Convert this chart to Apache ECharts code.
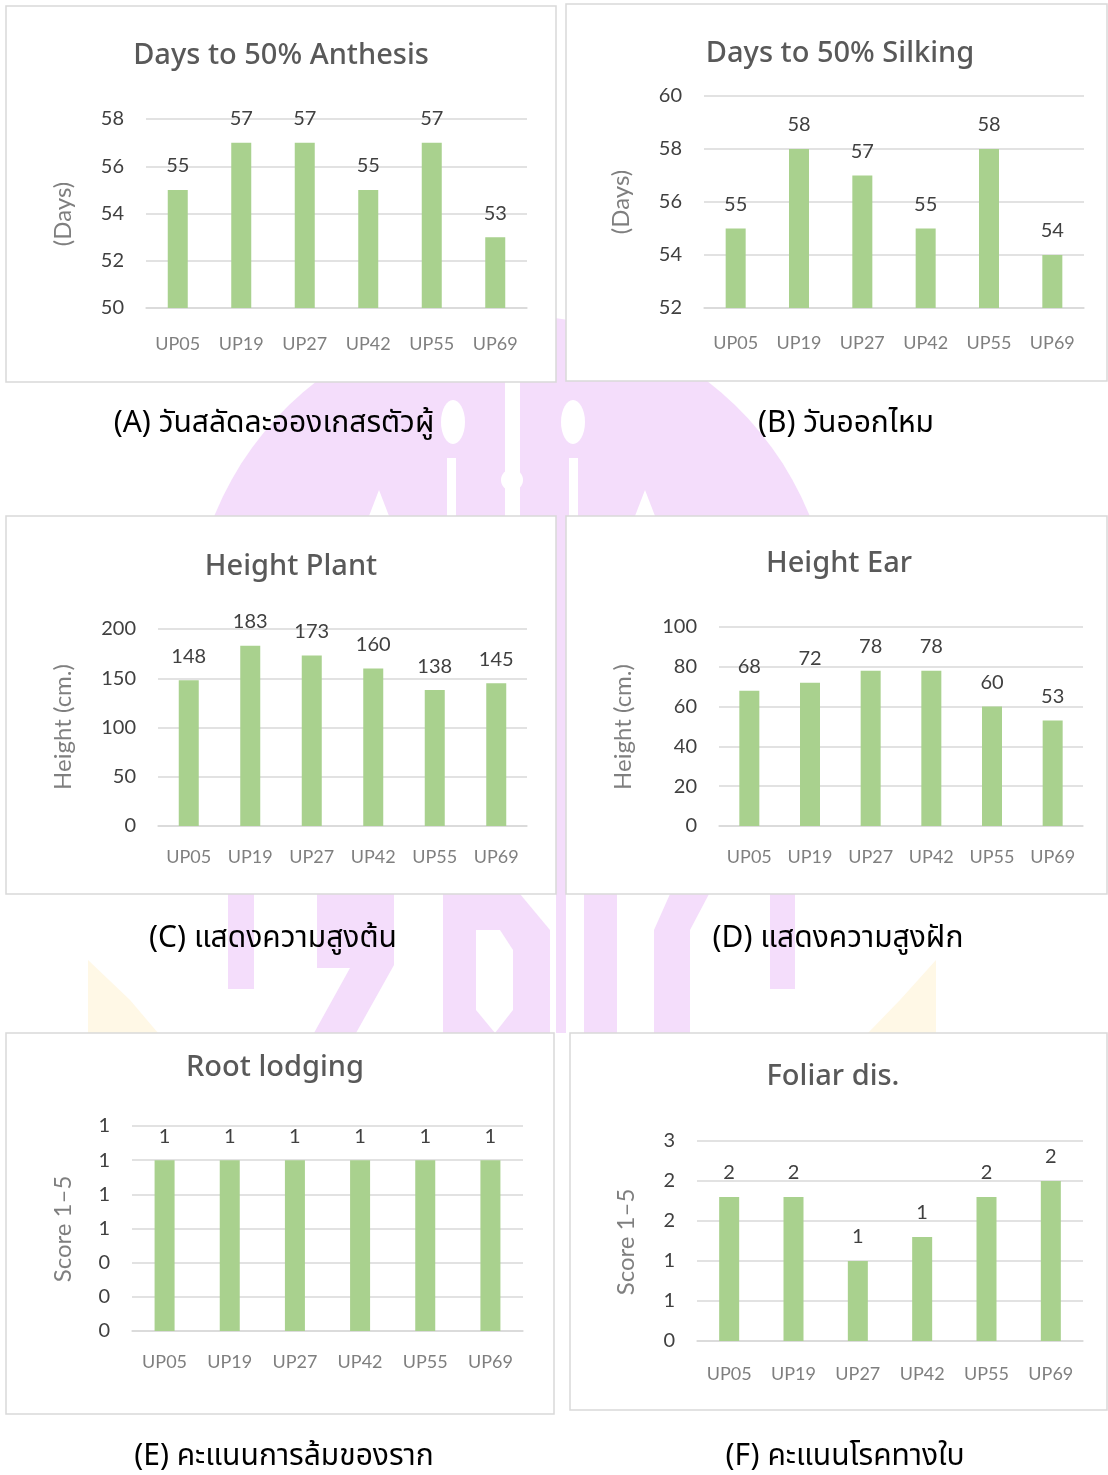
<!DOCTYPE html>
<html>
<head>
<meta charset="utf-8">
<script src="https://cdn.jsdelivr.net/npm/echarts@6/dist/echarts.min.js"></script>
<style>
  html, body { margin: 0; padding: 0; background: #fff; }
  #chart { width: 1108px; height: 1475px; }
</style>
</head>
<body>
<div id="chart"></div>
<script>
// data
const categories = ['UP05', 'UP19', 'UP27', 'UP42', 'UP55', 'UP69']
const anthesisDays = [55, 57, 57, 55, 57, 53]
const silkingDays = [55, 58, 57, 55, 58, 54]
const plantHeight = [148, 183, 173, 160, 138, 145]
const earHeight = [68, 72, 78, 78, 60, 53]
const rootLodging = [1, 1, 1, 1, 1, 1]
const foliarDisease = [1.8, 1.8, 1.0, 1.3, 1.8, 2.0]

const titles = ['Days to 50% Anthesis', 'Days to 50% Silking', 'Height Plant', 'Height Ear', 'Root lodging', 'Foliar dis.']
const axisNames = ['(Days)', '(Days)', 'Height (cm.)', 'Height (cm.)', 'Score 1\u20135', 'Score 1\u20135']
const captions = [
  '(A) วันสลัดละอองเกสรตัวผู้',
  '(B) วันออกไหม',
  '(C) แสดงความสูงต้น',
  '(D) แสดงความสูงฝัก',
  '(E) คะแนนการล้มของราก',
  '(F) คะแนนโรคทางใบ'
]
const yMin = [50, 52, 0, 0, 0, 0]
const yMax = [58, 60, 200, 100, 1.2, 2.5]
const yStep = [2, 2, 50, 20, 0.2, 0.5]
const seriesData = [anthesisDays, silkingDays, plantHeight, earHeight, rootLodging, foliarDisease]

// layout of each panel (page pixels)
const panels = [
  { box: [6, 6, 550, 376], grid: [146, 119, 381, 189], title: [281, 56], name: [63, 214], caption: [274, 426], catMargin: 27 },
  { box: [566, 4, 541, 377], grid: [704, 96, 380, 212], title: [840, 54], name: [621, 202], caption: [846, 426], catMargin: 26 },
  { box: [6, 516, 550, 378], grid: [158, 629, 369, 197], title: [291, 567], name: [63, 727], caption: [273, 941], catMargin: 22 },
  { box: [566, 516, 541, 378], grid: [719, 627, 364, 199], title: [839, 564], name: [623, 727], caption: [838, 941], catMargin: 22 },
  { box: [6, 1033, 548, 381], grid: [132, 1126, 391, 205], title: [275, 1068], name: [63, 1229], caption: [284, 1459], catMargin: 22 },
  { box: [570, 1033, 537, 377], grid: [697, 1141, 386, 200], title: [833, 1077], name: [626, 1242], caption: [845, 1459], catMargin: 24 }
]

const LATIN = 'Lato, "Open Sans", sans-serif'
const THAI = '"Noto Sans Thai", "Noto Sans Thai Looped", Loma, Garuda, Norasi, "Tlwg Typist", sans-serif'
const PINK = '#F4DDFB'

// rough watermark behind the panels
function watermark() {
  const els = []
  const pts = []
  const cx = 512, cy = 636, r = 321
  const a0 = Math.acos((cy - 700) / r)
  for (let i = 0; i <= 60; i++) {
    const a = -a0 + (2 * a0 * i) / 60
    pts.push([cx + r * Math.sin(a), cy - r * Math.cos(a)])
  }
  els.push({ type: 'polygon', shape: { points: pts }, style: { fill: PINK }, z: -30 })
  const white = { fill: '#fff' }
  els.push({ type: 'rect', shape: { x: 505, y: 382, width: 15, height: 134 }, style: white, z: -29 })
  els.push({ type: 'circle', shape: { cx: 512, cy: 480, r: 11 }, style: white, z: -29 })
  els.push({ type: 'ellipse', shape: { cx: 453, cy: 422, rx: 12, ry: 22 }, style: white, z: -29 })
  els.push({ type: 'ellipse', shape: { cx: 573, cy: 422, rx: 12, ry: 22 }, style: white, z: -29 })
  els.push({ type: 'rect', shape: { x: 447, y: 458, width: 9, height: 58 }, style: white, z: -29 })
  els.push({ type: 'rect', shape: { x: 569, y: 458, width: 9, height: 58 }, style: white, z: -29 })
  els.push({ type: 'polygon', shape: { points: [[369, 516], [379, 490], [389, 516]] }, style: white, z: -29 })
  els.push({ type: 'polygon', shape: { points: [[635, 516], [645, 490], [655, 516]] }, style: white, z: -29 })
  // strip between the panel columns
  els.push({ type: 'rect', shape: { x: 556, y: 380, width: 10, height: 653 }, style: { fill: PINK }, z: -30 })
  // letter shapes in the lower gap
  const pink = { fill: PINK }
  els.push({ type: 'rect', shape: { x: 228, y: 894, width: 26, height: 95 }, style: pink, z: -30 })
  els.push({ type: 'polygon', shape: { points: [[317, 894], [394, 894], [394, 965], [356, 1033], [314, 1033], [350, 968], [317, 968]] }, style: pink, z: -30 })
  els.push({ type: 'polygon', shape: { points: [[443, 894], [520, 894], [550, 930], [550, 1033], [443, 1033]] }, style: pink, z: -30 })
  els.push({ type: 'polygon', shape: { points: [[476, 930], [500, 930], [513, 950], [513, 1010], [495, 1033], [476, 1010]] }, style: white, z: -29 })
  els.push({ type: 'rect', shape: { x: 584, y: 894, width: 33, height: 139 }, style: pink, z: -30 })
  els.push({ type: 'polygon', shape: { points: [[670, 894], [709, 894], [690, 930], [690, 1033], [654, 1033], [654, 930]] }, style: pink, z: -30 })
  els.push({ type: 'rect', shape: { x: 770, y: 894, width: 25, height: 95 }, style: pink, z: -30 })
  els.push({ type: 'polygon', shape: { points: [[88, 960], [130, 1000], [158, 1033], [88, 1033]] }, style: { fill: '#FFF8E6' }, z: -30 })
  els.push({ type: 'polygon', shape: { points: [[936, 960], [900, 1000], [868, 1033], [936, 1033]] }, style: { fill: '#FFF8E6' }, z: -30 })
  return els
}

const graphics = watermark()
const grids = [], xAxes = [], yAxes = [], series = []

panels.forEach((p, i) => {
  graphics.push({
    type: 'rect',
    shape: { x: p.box[0], y: p.box[1], width: p.box[2], height: p.box[3] },
    style: { fill: '#fff', stroke: '#d9d9d9', lineWidth: 1.5 },
    z: -10
  })
  graphics.push({
    type: 'text', x: p.title[0], y: p.title[1], z: 10,
    style: { text: titles[i], fill: '#595959', fontSize: 29, fontWeight: 500, fontFamily: '"Noto Sans", sans-serif', align: 'center', verticalAlign: 'middle' }
  })
  graphics.push({
    type: 'text', x: p.name[0], y: p.name[1], rotation: Math.PI / 2, z: 10,
    style: { text: axisNames[i], fill: '#7f7f7f', fontSize: 24, fontFamily: LATIN, align: 'center', verticalAlign: 'middle' }
  })
  graphics.push({
    type: 'text', x: p.caption[0], y: p.caption[1], z: 10,
    style: { text: captions[i], fill: '#000', fontSize: 30, fontFamily: THAI, align: 'center', verticalAlign: 'middle' }
  })

  grids.push({ left: p.grid[0], top: p.grid[1], width: p.grid[2], height: p.grid[3] })
  const rounded = i >= 4
  xAxes.push({
    type: 'category',
    gridIndex: i,
    data: categories,
    axisLine: { lineStyle: { color: '#d9d9d9', width: 1.5 } },
    axisTick: { show: false },
    axisLabel: { color: '#7f7f7f', fontSize: 18, fontFamily: LATIN, margin: p.catMargin }
  })
  yAxes.push({
    type: 'value',
    gridIndex: i,
    min: yMin[i],
    max: yMax[i],
    interval: yStep[i],
    axisLine: { show: false },
    axisTick: { show: false },
    axisLabel: {
      color: '#404040', fontSize: 20, fontFamily: LATIN, margin: 22,
      formatter: v => rounded ? String(Math.round(v)) : String(v)
    },
    splitLine: { lineStyle: { color: '#d9d9d9', width: 1.5 } }
  })
  series.push({
    type: 'bar',
    xAxisIndex: i,
    yAxisIndex: i,
    data: seriesData[i],
    barWidth: 20,
    itemStyle: { color: '#A9D18E' },
    label: {
      show: true, position: 'top', distance: 14,
      color: '#404040', fontSize: 20, fontFamily: LATIN,
      formatter: d => rounded ? String(Math.round(d.value)) : String(d.value)
    },
    animation: false
  })
})

const chart = echarts.init(document.getElementById('chart'), null, { renderer: 'canvas' })
chart.setOption({
  animation: false,
  backgroundColor: '#fff',
  grid: grids,
  xAxis: xAxes,
  yAxis: yAxes,
  series: series,
  graphic: { elements: graphics }
})
</script>
</body>
</html>
